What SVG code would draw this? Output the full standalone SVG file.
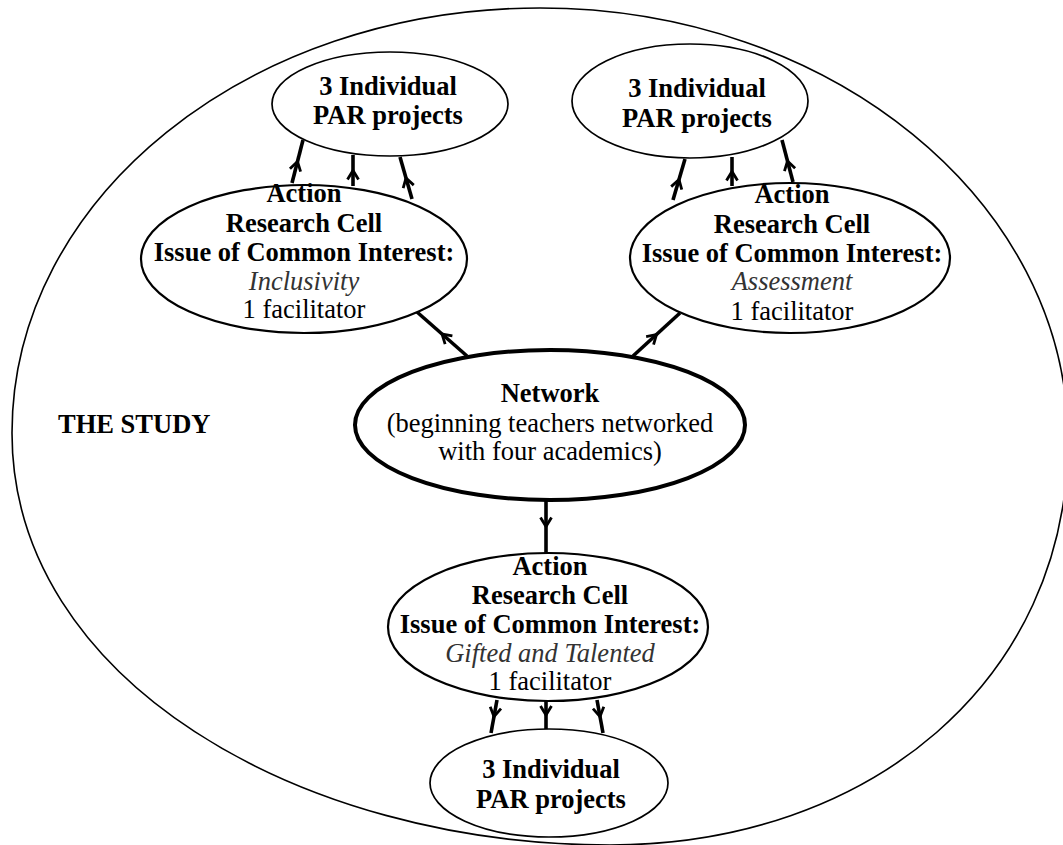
<svg xmlns="http://www.w3.org/2000/svg" width="1063" height="845" viewBox="0 0 1063 845" font-family="Liberation Serif, DejaVu Serif, serif">
<style>
text{font-family:'Liberation Serif','DejaVu Serif',serif;font-size:26.5px;fill:#000;text-anchor:middle}
.b{font-weight:bold}
.i{font-style:italic;fill:#333}
.par{fill:none;stroke:#000;stroke-width:1.7}
.cell{fill:none;stroke:#000;stroke-width:2.2}
.net{fill:none;stroke:#000;stroke-width:4}
.con{fill:none;stroke:#000;stroke-width:3.6;marker-mid:url(#chev)}
</style>
<defs>
<marker id="chev" viewBox="-12 -9 16 18" markerWidth="16" markerHeight="18" refX="0" refY="0" orient="auto" markerUnits="userSpaceOnUse">
<path d="M -9,-5.5 L 0,0 L -9,5.5" fill="none" stroke="#000" stroke-width="2.8" stroke-linejoin="miter"/>
</marker>
</defs>
<g id="study">
<path d="M 12,433 C 12,198 248,8 540,8 C 830,8 1068,201 1068,440 C 1068,680 870,845 610,845 C 300,845 12,680 12,433 Z" fill="none" stroke="#000" stroke-width="1.6"/>
<text class="b" x="58" y="433" style="text-anchor:start">THE STUDY</text>
</g>
<g id="connectors">
<polyline class="con" points="292,183 297.5,161.5 303,140"/>
<polyline class="con" points="353,186 353,170.5 353,155"/>
<polyline class="con" points="412,199 406,178 400,157"/>
<polyline class="con" points="673,200 679,179.5 685,159"/>
<polyline class="con" points="732,186 732,171.5 732,157"/>
<polyline class="con" points="793,182 787.5,161 782,140"/>
<polyline class="con" points="467,356 442,334 417,312"/>
<polyline class="con" points="633,356 656.5,334.5 680,313"/>
<polyline class="con" points="546,500 546,526.5 546,553"/>
<polyline class="con" points="497,700 494,716.5 491,733"/>
<polyline class="con" points="546,701 546,715 546,729"/>
<polyline class="con" points="597,700 600,716.5 603,733"/>
</g>
<g id="par-left">
<ellipse class="par" cx="390" cy="104" rx="118" ry="52"/>
<text class="b" x="388" y="95">3 Individual</text>
<text class="b" x="388" y="124">PAR projects</text>
</g>
<g id="par-right">
<ellipse class="par" cx="690" cy="101" rx="118" ry="57"/>
<text class="b" x="697" y="97">3 Individual</text>
<text class="b" x="697" y="127">PAR projects</text>
</g>
<g id="cell-inclusivity">
<ellipse class="cell" cx="304" cy="259" rx="163" ry="74"/>
<text class="b" x="304" y="202">Action</text>
<text class="b" x="304" y="232">Research Cell</text>
<text class="b" x="304" y="261">Issue of Common Interest:</text>
<text class="i" x="304" y="290">Inclusivity</text>
<text x="304" y="318">1 facilitator</text>
</g>
<g id="cell-assessment">
<ellipse class="cell" cx="790" cy="258" rx="160" ry="75"/>
<text class="b" x="792" y="203">Action</text>
<text class="b" x="792" y="233">Research Cell</text>
<text class="b" x="792" y="262">Issue of Common Interest:</text>
<text class="i" x="792" y="290">Assessment</text>
<text x="792" y="320">1 facilitator</text>
</g>
<g id="network">
<ellipse class="net" cx="550" cy="425" rx="195" ry="75"/>
<text class="b" x="550" y="402">Network</text>
<text x="550" y="432">(beginning teachers networked</text>
<text x="550" y="460">with four academics)</text>
</g>
<g id="cell-gifted">
<ellipse class="cell" cx="548" cy="627" rx="160" ry="74"/>
<text class="b" x="550" y="575">Action</text>
<text class="b" x="550" y="604">Research Cell</text>
<text class="b" x="550" y="633">Issue of Common Interest:</text>
<text class="i" x="550" y="662">Gifted and Talented</text>
<text x="550" y="690">1 facilitator</text>
</g>
<g id="par-bottom">
<ellipse class="par" cx="549" cy="783" rx="119" ry="54"/>
<text class="b" x="551" y="778">3 Individual</text>
<text class="b" x="551" y="808">PAR projects</text>
</g>
</svg>
